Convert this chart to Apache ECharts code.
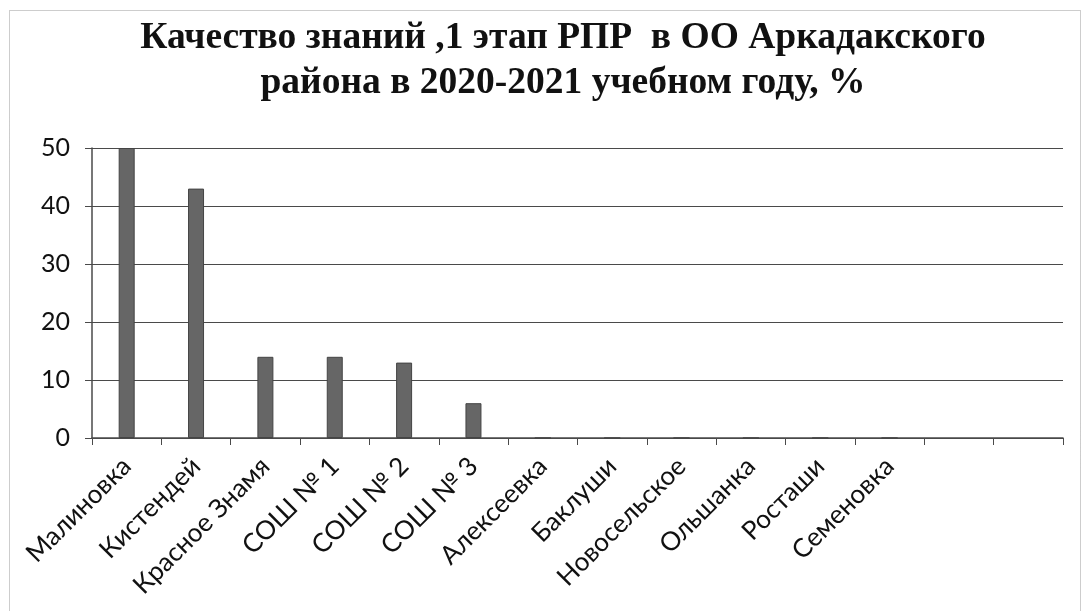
<!DOCTYPE html>
<html>
<head>
<meta charset="utf-8">
<script src="https://cdn.jsdelivr.net/npm/echarts@6/dist/echarts.min.js"></script>
<style>
html,body{margin:0;padding:0;background:#fff;}
#chart{width:1084px;height:611px;}
</style>
</head>
<body>
<div id="chart"></div>
<script>
var titleText = 'Качество знаний ,1 этап РПР  в ОО Аркадакского\nрайона в 2020-2021 учебном году, %';
var categories = ['Малиновка','Кистендей','Красное Знамя','СОШ № 1','СОШ № 2','СОШ № 3','Алексеевка','Баклуши','Новосельское','Ольшанка','Росташи','Семеновка','',''];
var values = [50,43,14,14,13,6,0,0,0,0,0,0,null,null];
var yMin = 0, yMax = 50, yStep = 10;

var chart = echarts.init(document.getElementById('chart'), null, {renderer:'canvas'});
var axisColor = '#4a4a4a';
chart.setOption({
  animation:false,
  backgroundColor:'#ffffff',
  graphic:[{
    type:'rect', shape:{x:9.5,y:10.5,width:1071,height:640},
    style:{fill:'none',stroke:'#9a9a9a',lineWidth:1,lineDash:[1,1]}, silent:true
  }],
  title:{
    text:titleText, left:558, top:11, textAlign:'center',
    textStyle:{fontFamily:'Liberation Serif',fontWeight:'bold',fontSize:37.5,lineHeight:45,color:'#111'}
  },
  grid:{left:92,right:21,top:148,bottom:173,containLabel:false},
  xAxis:{
    type:'category', data:categories, boundaryGap:true,
    axisLine:{show:true,lineStyle:{color:axisColor,width:1.5}},
    axisTick:{show:true,length:7,alignWithLabel:false,interval:0,lineStyle:{color:axisColor,width:1}},
    axisLabel:{interval:0,rotate:45,margin:24,fontFamily:'Lato',fontSize:26,color:'#111'},
    splitLine:{show:false}
  },
  yAxis:{
    type:'value', min:yMin, max:yMax, interval:yStep,
    axisLine:{show:true,lineStyle:{color:axisColor,width:1.5}},
    axisTick:{show:true,length:7,lineStyle:{color:axisColor,width:1}},
    axisLabel:{margin:22,fontFamily:'Lato',fontSize:25,color:'#111'},
    splitLine:{show:true,lineStyle:{color:axisColor,width:1.2}}
  },
  series:[{
    type:'bar', data:values, barWidth:16,
    itemStyle:{color:'#666666',borderColor:'#444444',borderWidth:1}
  }]
});
</script>
</body>
</html>
